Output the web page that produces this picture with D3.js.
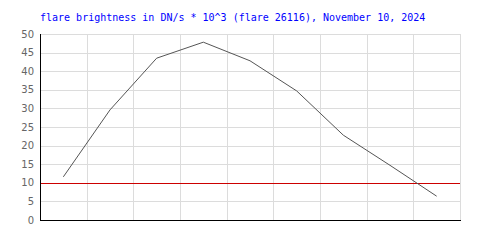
<!DOCTYPE html>
<html>
<head>
<meta charset="utf-8">
<script src="https://cdn.jsdelivr.net/npm/d3@7"></script>
<style>
    body { margin: 0; background: #fff; }
    .title { font-family: "DejaVu Sans Mono", monospace; font-size: 10px; fill: #0000ff; }
    .y-tick { font-family: "DejaVu Sans", sans-serif; font-size: 10px; fill: #666; }
</style>
</head>
<body>
<div id="chart"></div>
<script>
// flare brightness (DN/s * 10^3), one value per column
const brightness = [11.6, 29.6, 43.5, 47.8, 42.8, 34.7, 22.8, 14.7, 6.4];
const yTicks = [0, 5, 10, 15, 20, 25, 30, 35, 40, 45, 50];
const threshold = 10;
const titleText = "flare brightness in DN/s * 10^3 (flare 26116), November 10, 2024";

let margin = {top: 34, right: 40, bottom: 30, left: 40};
let width = 500 - margin.left - margin.right;
let height = 250 - margin.top - margin.bottom;

let svg = d3.select("#chart").append("svg")
    .attr("width", 500)
    .attr("height", 250);

svg.append("text")
    .attr("class", "title")
    .attr("x", 40)
    .attr("y", 21)
    .text(titleText);

let g = svg.append("g")
    .attr("transform", "translate(" + margin.left + "," + margin.top + ")");

let x = d3.scaleBand()
    .domain(d3.range(brightness.length))
    .range([0, width]);

let y = d3.scaleLinear()
    .domain([0, 50])
    .range([height, 0]);

// grid: horizontal lines at ticks
g.selectAll(".h-grid")
    .data(yTicks)
    .enter()
    .append("line")
    .attr("class", "h-grid")
    .attr("x1", 0)
    .attr("x2", width)
    .attr("y1", d => Math.round(y(d)) + 0.5)
    .attr("y2", d => Math.round(y(d)) + 0.5)
    .style("stroke", "#dcdcdc");

// grid: vertical lines at column boundaries
g.selectAll(".v-grid")
    .data(d3.range(1, brightness.length + 1))
    .enter()
    .append("line")
    .attr("class", "v-grid")
    .attr("x1", d => Math.round(d * x.step()) + 0.5)
    .attr("x2", d => Math.round(d * x.step()) + 0.5)
    .attr("y1", 0)
    .attr("y2", height)
    .style("stroke", "#dcdcdc");

// y tick labels
g.selectAll(".y-tick")
    .data(yTicks)
    .enter()
    .append("text")
    .attr("class", "y-tick")
    .attr("x", -6)
    .attr("y", d => y(d))
    .style("text-anchor", "end")
    .style("dominant-baseline", "central")
    .text(d => d);

// threshold line
g.append("line")
    .attr("x1", 0)
    .attr("x2", width)
    .attr("y1", Math.round(y(threshold)) + 0.5)
    .attr("y2", Math.round(y(threshold)) + 0.5)
    .style("stroke", "#cc0000");

// data line
let line = d3.line()
    .x((d, i) => x(i) + x.bandwidth() / 2)
    .y(d => y(d));

g.append("path")
    .datum(brightness)
    .attr("d", line)
    .style("fill", "none")
    .style("stroke", "#555")
    .style("stroke-width", 1);

// axes
g.append("line")
    .attr("x1", 0.5).attr("x2", 0.5)
    .attr("y1", 0).attr("y2", height + 1)
    .style("stroke", "#000");

g.append("line")
    .attr("x1", 0).attr("x2", width + 1)
    .attr("y1", height + 0.5).attr("y2", height + 0.5)
    .style("stroke", "#000");
</script>
</body>
</html>
